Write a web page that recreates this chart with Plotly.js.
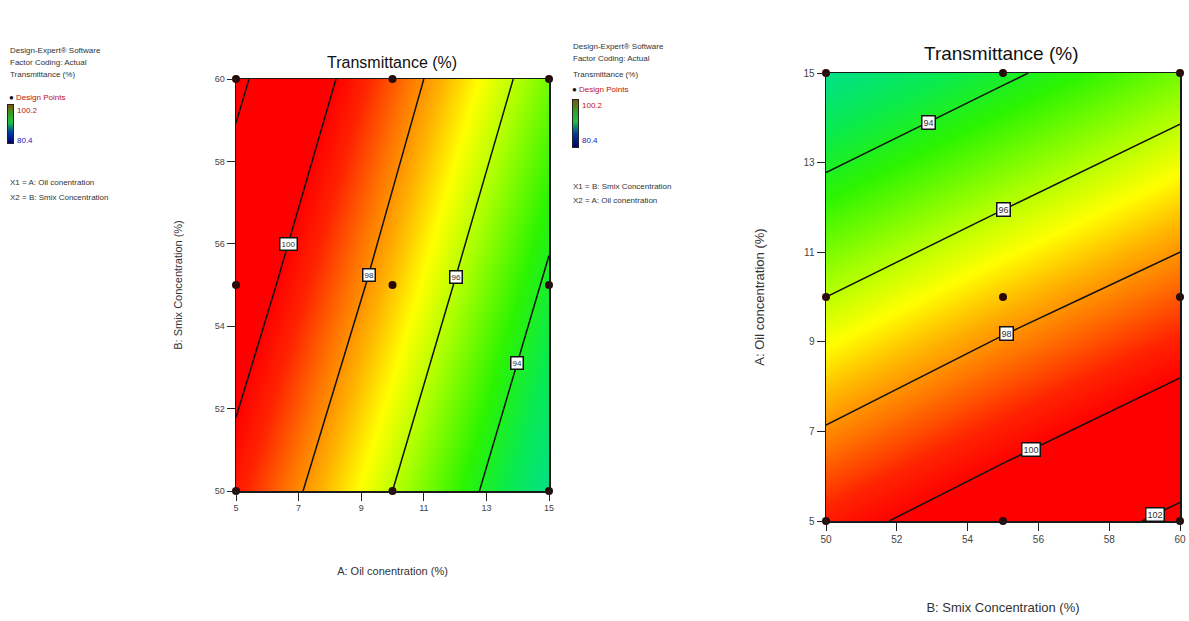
<!DOCTYPE html>
<html>
<head>
<meta charset="utf-8">
<script src="https://cdn.plot.ly/plotly-3.0.1.min.js"></script>
<style>html,body{margin:0;padding:0;background:#fff;}#chart{width:1189px;height:621px;}</style>
</head>
<body>
<div id="chart"></div>
<script>
// ---- data ----
const oilLevels = [5, 10, 15];          // A: Oil concentration (%)
const smixLevels = [50, 55, 60];        // B: Smix concentration (%)
// Transmittance (%) at design grid; rows = Smix 50,55,60 ; cols = Oil 5,10,15
const transmittance = [
  [99.5, 96.0, 92.4],
  [100.9, 97.4, 93.8],
  [102.3, 98.7, 95.2]
];
const contourLevels = [94, 96, 98, 100, 102];
const oilTicks = [5, 7, 9, 11, 13, 15];
const smixTicks = [50, 52, 54, 56, 58, 60];
const legendRange = [80.4, 100.2];

// label placements (Smix value along each contour line)
const leftLabelAt = {100: 56.0, 98: 55.25, 96: 55.2, 94: 53.1};
const rightLabelAt = {94: 52.9, 96: 55.0, 98: 55.1, 100: 55.8, 102: 59.3};

const W = 1189, H = 621;
const px = x => x / W, py = y => 1 - y / H;

function interp(xs, ys, x) {
  for (let k = 0; k < xs.length - 1; k++) {
    if (x >= xs[k] && x <= xs[k + 1]) {
      return ys[k] + (x - xs[k]) / (xs[k + 1] - xs[k]) * (ys[k + 1] - ys[k]);
    }
  }
  return ys[ys.length - 1];
}
function oilAt(level, smix) {
  const zs = oilLevels.map((_, j) => interp(smixLevels, transmittance.map(r => r[j]), smix));
  for (let k = 0; k < zs.length - 1; k++) {
    const a = zs[k], b = zs[k + 1];
    if ((level - a) * (level - b) <= 0) {
      return oilLevels[k] + (level - a) / (b - a) * (oilLevels[k + 1] - oilLevels[k]);
    }
  }
  return null;
}

const transposed = oilLevels.map((_, j) => transmittance.map(r => r[j]));

const cscale = [
  [0.0, '#00dca0'], [0.15, '#08ea50'], [0.27, '#2cf400'], [0.42, '#a8ff00'],
  [0.53, '#ffff00'], [0.62, '#ffb400'], [0.71, '#ff7200'], [0.81, '#ff2400'],
  [0.89, '#ff0000'], [1.0, '#ff0000']
];

const contourCommon = {
  type: 'contour', colorscale: cscale, zmin: 92, zmax: 101, zauto: false,
  showscale: false, hoverinfo: 'skip',
  contours: {start: contourLevels[0], end: contourLevels[contourLevels.length - 1],
             size: contourLevels[1] - contourLevels[0], coloring: 'heatmap', showlabels: false},
  line: {color: '#111', width: 1.5, smoothing: 0}
};

const dpX = [], dpY = [];
smixLevels.forEach(s => oilLevels.forEach(o => { dpX.push(o); dpY.push(s); }));

const legendScale = [[0, '#000070'], [0.3, '#0040a0'], [0.55, '#20c040'], [0.8, '#3a9a20'], [1, '#7a5a10']];

const traces = [
  Object.assign({}, contourCommon, {x: oilLevels, y: smixLevels, z: transmittance, xaxis: 'x', yaxis: 'y'}),
  Object.assign({}, contourCommon, {x: smixLevels, y: oilLevels, z: transposed, xaxis: 'x2', yaxis: 'y2'}),
  {type: 'scatter', mode: 'markers', x: dpX, y: dpY, xaxis: 'x', yaxis: 'y', cliponaxis: false,
   marker: {color: '#2a0808', size: 8}, hoverinfo: 'skip'},
  {type: 'scatter', mode: 'markers', x: dpY, y: dpX, xaxis: 'x2', yaxis: 'y2', cliponaxis: false,
   marker: {color: '#2a0808', size: 8}, hoverinfo: 'skip'},
  {type: 'heatmap', x: [0, 1], y: legendRange.slice().sort((a, b) => a - b),
   z: legendRange.slice().sort((a, b) => a - b).map(v => [v, v]), zsmooth: 'best',
   colorscale: legendScale, showscale: false, xaxis: 'x3', yaxis: 'y3', hoverinfo: 'skip'},
  {type: 'heatmap', x: [0, 1], y: legendRange.slice().sort((a, b) => a - b),
   z: legendRange.slice().sort((a, b) => a - b).map(v => [v, v]), zsmooth: 'best',
   colorscale: legendScale, showscale: false, xaxis: 'x4', yaxis: 'y4', hoverinfo: 'skip'}
];

const FONT = 'Liberation Sans, Arial, sans-serif';
const NARROW = 'Liberation Sans Narrow, Liberation Sans, Arial, sans-serif';

function axisBase(extra) {
  return Object.assign({
    showline: true, mirror: true, linecolor: '#1a1a1a', linewidth: 1.5,
    ticks: 'outside', ticklen: 8, tickcolor: '#222', showgrid: false, zeroline: false,
    tickmode: 'array', tickfont: {family: FONT, size: 9, color: '#444'}
  }, extra);
}

const annotations = [];
function note(x, y, text, size, color, anchor, extra) {
  annotations.push(Object.assign({xref: 'paper', yref: 'paper', x: px(x), y: py(y), text: text,
    showarrow: false, xanchor: anchor || 'left', yanchor: 'middle',
    font: {family: NARROW, size: size, color: color}}, extra || {}));
}

// subplot titles
note(392, 62, 'Transmittance (%)', 16, '#111', 'center', {font: {family: FONT, size: 16, color: '#111'}});
note(1002, 53, 'Transmittance (%)', 19, '#111', 'center', {font: {family: FONT, size: 19, color: '#111'}});

// left info block
note(8, 50, 'Design-Expert® Software', 8, '#333');
note(8, 62, 'Factor Coding: Actual', 8, '#333');
note(8, 75, 'Transmittance (%)', 8, '#333');
note(7, 97, '<span style="color:#111">●</span> Design Points', 8, '#c01010');
note(15, 110, String(legendRange[1]), 8, '#c01010');
note(15, 140, String(legendRange[0]), 8, '#2020c0');
note(8, 183, 'X1 = A: Oil conentration', 8, '#333');
note(8, 198, 'X2 = B: Smix Concentration', 8, '#333');

// right info block
note(571, 46, 'Design-Expert® Software', 8, '#333');
note(571, 59, 'Factor Coding: Actual', 8, '#333');
note(571, 75, 'Transmittance (%)', 8, '#333');
note(570, 90, '<span style="color:#111">●</span> Design Points', 8, '#c01010');
note(580, 106, String(legendRange[1]), 8, '#c01010');
note(580, 140, String(legendRange[0]), 8, '#2020c0');
note(571, 186, 'X1 = B: Smix Concentration', 8, '#333');
note(571, 200, 'X2 = A: Oil conentration', 8, '#333');

// contour labels
function boxLabel(xref, yref, x, y, level, size) {
  annotations.push({xref: xref, yref: yref, x: x, y: y, text: String(level), showarrow: false,
    bgcolor: '#fff', bordercolor: '#111', borderwidth: 1.5, borderpad: 1,
    font: {family: FONT, size: size, color: '#333'}});
}
Object.keys(leftLabelAt).forEach(l => {
  const s = leftLabelAt[l]; const o = oilAt(+l, s);
  if (o !== null) boxLabel('x', 'y', o, s, l, 8);
});
Object.keys(rightLabelAt).forEach(l => {
  const s = rightLabelAt[l]; const o = oilAt(+l, s);
  if (o !== null) boxLabel('x2', 'y2', s, o, l, 9);
});

const layout = {
  width: W, height: H, margin: {l: 0, r: 0, t: 0, b: 0},
  paper_bgcolor: '#fff', plot_bgcolor: '#fff', showlegend: false,
  xaxis: axisBase({domain: [px(236), px(549)], range: [5, 15], tickvals: oilTicks, anchor: 'y',
    title: {text: 'A: Oil conentration (%)', standoff: 55, font: {family: FONT, size: 11, color: '#333'}}}),
  yaxis: axisBase({domain: [py(491), py(79)], range: [50, 60], tickvals: smixTicks, anchor: 'x',
    title: {text: 'B: Smix Concentration (%)', standoff: 30, font: {family: FONT, size: 11, color: '#333'}}}),
  xaxis2: axisBase({domain: [px(826), px(1180)], range: [50, 60], tickvals: smixTicks, anchor: 'y2',
    tickfont: {family: FONT, size: 10, color: '#444'},
    title: {text: 'B: Smix Concentration (%)', standoff: 59, font: {family: FONT, size: 13, color: '#333'}}}),
  yaxis2: axisBase({domain: [py(521), py(73)], range: [5, 15], tickvals: oilTicks, anchor: 'x2',
    tickfont: {family: FONT, size: 10, color: '#444'},
    title: {text: 'A: Oil concentration (%)', standoff: 36, font: {family: FONT, size: 13, color: '#333'}}}),
  xaxis3: {domain: [px(8), px(13)], range: [0, 1], showticklabels: false, ticks: '', showgrid: false,
    zeroline: false, showline: true, mirror: true, linecolor: '#222', linewidth: 1, anchor: 'y3'},
  yaxis3: {domain: [py(143), py(105)], range: [legendRange[0], legendRange[1]], showticklabels: false, ticks: '',
    showgrid: false, zeroline: false, showline: true, mirror: true, linecolor: '#222', linewidth: 1, anchor: 'x3'},
  xaxis4: {domain: [px(573), px(578)], range: [0, 1], showticklabels: false, ticks: '', showgrid: false,
    zeroline: false, showline: true, mirror: true, linecolor: '#222', linewidth: 1, anchor: 'y4'},
  yaxis4: {domain: [py(147), py(100)], range: [legendRange[0], legendRange[1]], showticklabels: false, ticks: '',
    showgrid: false, zeroline: false, showline: true, mirror: true, linecolor: '#222', linewidth: 1, anchor: 'x4'},
  annotations: annotations
};

Plotly.newPlot('chart', traces, layout, {staticPlot: true, displayModeBar: false});
</script>
</body>
</html>
